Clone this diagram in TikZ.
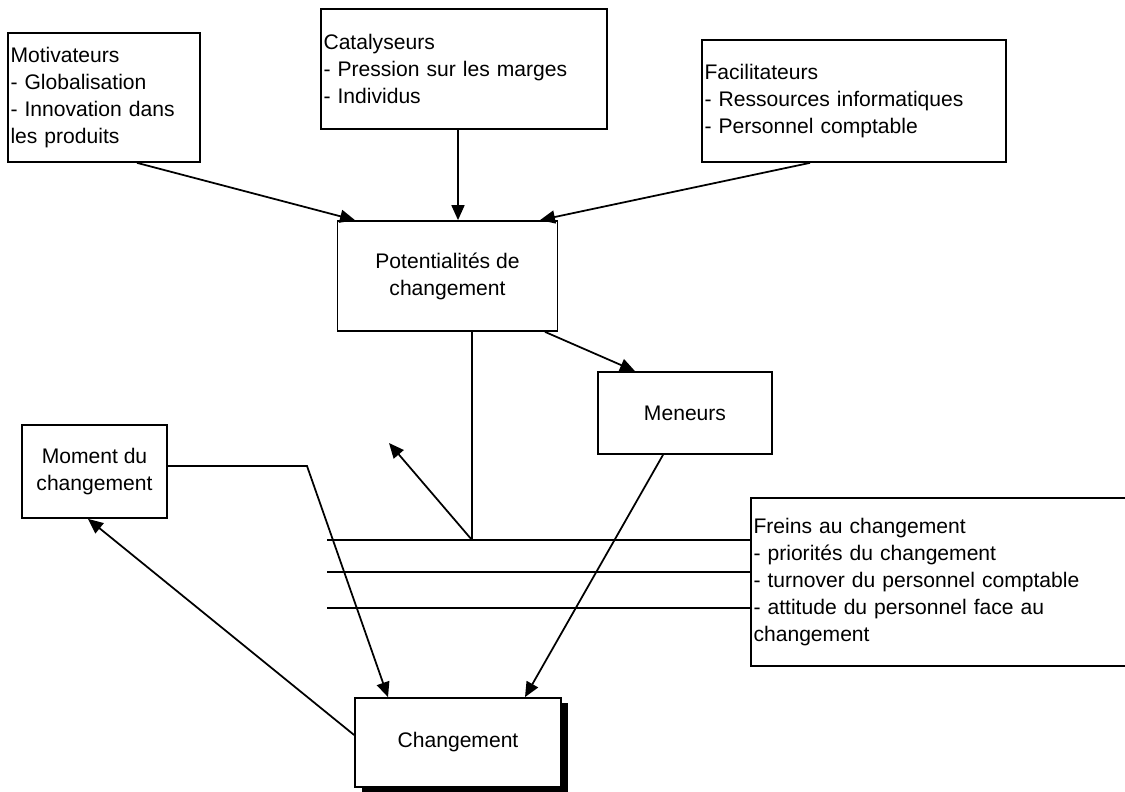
\documentclass[tikz,border=0pt]{standalone}
\usepackage{fontspec}
\setmainfont{Liberation Sans}
\usetikzlibrary{
    positioning,
    arrows.meta,
    calc,
    shadows
}
\tikzset{
    % box with frame
    box/.style={
        rectangle,
        draw=black,
        line width=1pt,
        fill=white,
        inner xsep=0.05cm,
        inner ysep=0pt,
        font=\fontsize{12}{15.3}\selectfont
    },
    % list boxes (left aligned)
    listbox/.style={box, align=left},
    % single title boxes (centred)
    midbox/.style={box, align=center},
    % arrows
    arrow/.style={
        -{Triangle[length=3mm, width=2.6mm]},
        line width=1pt
    },
    % plain lines
    link/.style={line width=1pt}
}

\begin{document}
\begin{tikzpicture}[x=0.02cm, y=-0.02cm]
    \useasboundingbox (0,0) rectangle (1125,791);

    % Boxes
    \node[listbox, text width=3.74cm, minimum height=2.58cm] (motiv) at (104,97.5) {Motivateurs\\- Globalisation\\- Innovation dans\\les produits};
    \node[listbox, text width=5.62cm, minimum height=2.4cm] (catal) at (464,69) {Catalyseurs\\- Pression sur les marges\\- Individus};
    \node[listbox, text width=5.98cm, minimum height=2.44cm] (facil) at (854,101) {Facilitateurs\\- Ressources informatiques\\- Personnel comptable};
    \node[midbox, minimum width=4.4cm, minimum height=2.2cm] (potent) at (447.5,276) {Potentialités de\\changement};
    \node[midbox, minimum width=3.48cm, minimum height=1.64cm] (meneurs) at (685,413) {Meneurs};
    \node[midbox, minimum width=2.9cm, minimum height=1.86cm] (moment) at (94.5,471.5) {Moment du\\changement};
    \node[listbox, text width=7.68cm, minimum height=3.36cm] (freins) at (945.5,582) {Freins au changement\\- priorités du changement\\- turnover du personnel comptable\\- attitude du personnel face au\\changement};
    \node[midbox, minimum width=4.12cm, minimum height=1.78cm,
          drop shadow={shadow xshift=0.14cm, shadow yshift=-0.09cm, opacity=1, fill=black}] (chg) at (458,742.5) {Changement};

    % Free ends
    \coordinate (fork) at (472,540);
    \coordinate (up) at (389,443);
    \coordinate (bend) at (307,466);
    \coordinate (f1) at (327,540);
    \coordinate (f2) at (327,572);
    \coordinate (f3) at (327,608);

    % Arrows to the potentials
    \draw[arrow] ([xshift=0.66cm]motiv.south) -- ([xshift=-1.85cm]potent.north);
    \draw[arrow] ([xshift=-0.12cm]catal.south) -- ([xshift=0.21cm]potent.north);
    \draw[arrow] ([xshift=-0.88cm]facil.south) -- ([xshift=1.85cm]potent.north);
    \draw[arrow] ([xshift=1.95cm]potent.south) -- ([xshift=-1.0cm]meneurs.north);

    % Brakes
    \draw[link] (potent.south -| fork) -- (fork);
    \draw[arrow] (fork) -- (up);
    \foreach \i in {1,2,3}
        \draw[link] (f\i) -- (f\i -| freins.west);

    % Arrows to and from the change
    \draw[arrow] (moment.east |- bend) -- (bend) -- ([xshift=-1.4cm]chg.north);
    \draw[arrow] ([xshift=-0.44cm]meneurs.south) -- ([xshift=1.34cm]chg.north);
    \draw[arrow] ([yshift=0.15cm]chg.west) -- ([xshift=-0.13cm]moment.south);

\end{tikzpicture}
\end{document}
